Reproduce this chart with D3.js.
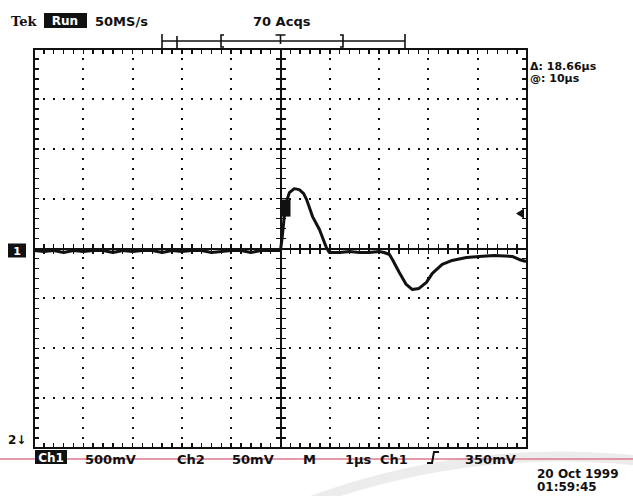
<!DOCTYPE html>
<html>
<head>
<meta charset="utf-8">
<script src="https://cdn.jsdelivr.net/npm/d3@7"></script>
<style>
  html, body { margin: 0; padding: 0; background: #fff; }
  svg text { font-family: 'DejaVu Sans', sans-serif; font-weight: bold; fill: #111; }
</style>
</head>
<body>
<div id="scope"></div>
<script>
// trace of channel 1, time in µs (trigger at 0), level in mV
const traceTime = [
  -5.0, -4.8, -4.6, -4.4, -4.2, -4.0, -3.8, -3.6, -3.4, -3.2, -3.0, -2.8, -2.6,
  -2.4, -2.2, -2.0, -1.8, -1.6, -1.4, -1.2, -1.0, -0.8, -0.6, -0.4, -0.2, 0.0,
  0.04, 0.1, 0.18, 0.28, 0.38, 0.47, 0.53, 0.65, 0.79, 0.93, 0.99, 1.09,
  1.2, 1.4, 1.6, 1.8, 2.0, 2.1, 2.21, 2.27, 2.41, 2.55, 2.67, 2.81, 2.96,
  3.08, 3.28, 3.48, 3.77, 4.03, 4.33, 4.7, 4.84, 4.98
];
const traceMv = [
  -20, -30, -20, -40, -20, -30, -20, -20, -40, -20, -30, -20, -20,
  -40, -20, -30, -20, -20, -40, -30, -20, -20, -40, -20, -20, -20,
  140, 440, 560, 600, 590, 550, 490, 320, 190, 10, -40, -40,
  -40, -30, -40, -40, -30, -40, -60, -110, -240, -360, -410, -400, -340,
  -250, -160, -120, -90, -80, -70, -80, -110, -130
];

const timeDomain = [-5, 5];       // 10 div at 1 µs/div
const levelDomain = [-2000, 2000]; // 8 div at 500 mV/div
const triggerLevel = 350;

const headerLabels = ['50MS/s', '70 Acqs'];
const cursorLabels = ['Δ: 18.66µs', '@: 10µs'];
const footerLabels = ['500mV', 'Ch2', '50mV', 'M', '1µs', 'Ch1', '350mV'];
const dateLabels = ['20 Oct 1999', '01:59:45'];

const width = 633;
const height = 496;
const box = { left: 34, right: 527, top: 49, bottom: 448 };

const x = d3.scaleLinear().domain(timeDomain).range([box.left, box.right]);
const y = d3.scaleLinear().domain(levelDomain).range([box.bottom, box.top]);

const svg = d3.select('#scope')
  .append('svg')
  .attr('width', width)
  .attr('height', height)
  .attr('viewBox', `0 0 ${width} ${height}`);

const ink = '#111';
const majorX = d3.range(timeDomain[0], timeDomain[1] + 0.001, 1);
const majorY = d3.range(levelDomain[0], levelDomain[1] + 1, 500);
const minorX = d3.range(timeDomain[0], timeDomain[1] + 0.001, 0.2);
const minorY = d3.range(levelDomain[0], levelDomain[1] + 1, 100);

// faint scan swoosh bottom right
svg.append('path')
  .attr('d', `M 300 505 Q 470 440 650 462`)
  .attr('fill', 'none')
  .attr('stroke', '#ececec')
  .attr('stroke-width', 10);

const grid = svg.append('g').attr('shape-rendering', 'crispEdges');

// dotted graticule
majorX.slice(1, -1).filter((d) => d !== 0).forEach((t) => {
  grid.selectAll(null)
    .data(minorY.slice(1, -1))
    .enter()
    .append('rect')
    .attr('x', x(t) - 1)
    .attr('y', (v) => y(v) - 1)
    .attr('width', 2)
    .attr('height', 2)
    .attr('fill', ink);
});
majorY.slice(1, -1).filter((d) => d !== 0).forEach((v) => {
  grid.selectAll(null)
    .data(minorX.slice(1, -1))
    .enter()
    .append('rect')
    .attr('x', (t) => x(t) - 1)
    .attr('y', y(v) - 1)
    .attr('width', 2)
    .attr('height', 2)
    .attr('fill', ink);
});

// frame
grid.append('rect')
  .attr('x', box.left)
  .attr('y', box.top)
  .attr('width', box.right - box.left)
  .attr('height', box.bottom - box.top)
  .attr('fill', 'none')
  .attr('stroke', ink)
  .attr('stroke-width', 2);

// center cross
grid.append('line')
  .attr('x1', x(0)).attr('x2', x(0))
  .attr('y1', box.top).attr('y2', box.bottom)
  .attr('stroke', ink).attr('stroke-width', 2);
grid.append('line')
  .attr('x1', box.left).attr('x2', box.right)
  .attr('y1', y(0)).attr('y2', y(0))
  .attr('stroke', ink).attr('stroke-width', 2);

// minor ticks on frame and center lines
const tk = 5;
minorX.slice(1, -1).forEach((t) => {
  grid.append('line').attr('x1', x(t)).attr('x2', x(t))
    .attr('y1', box.top).attr('y2', box.top + tk)
    .attr('stroke', ink).attr('stroke-width', 1.5);
  grid.append('line').attr('x1', x(t)).attr('x2', x(t))
    .attr('y1', box.bottom).attr('y2', box.bottom - tk)
    .attr('stroke', ink).attr('stroke-width', 1.5);
  grid.append('line').attr('x1', x(t)).attr('x2', x(t))
    .attr('y1', y(0) - tk).attr('y2', y(0) + tk)
    .attr('stroke', ink).attr('stroke-width', 1.5);
});
minorY.slice(1, -1).forEach((v) => {
  grid.append('line').attr('y1', y(v)).attr('y2', y(v))
    .attr('x1', box.left).attr('x2', box.left + tk)
    .attr('stroke', ink).attr('stroke-width', 1.5);
  grid.append('line').attr('y1', y(v)).attr('y2', y(v))
    .attr('x1', box.right).attr('x2', box.right - tk)
    .attr('stroke', ink).attr('stroke-width', 1.5);
  grid.append('line').attr('y1', y(v)).attr('y2', y(v))
    .attr('x1', x(0) - tk).attr('x2', x(0) + tk)
    .attr('stroke', ink).attr('stroke-width', 1.5);
});

// trace
const traceData = traceTime.map((t, i) => ({ t, v: traceMv[i] }));
const traceLine = d3.line()
  .x((d) => x(d.t))
  .y((d) => y(d.v));
svg.append('path')
  .attr('d', traceLine(traceData))
  .attr('fill', 'none')
  .attr('stroke', ink)
  .attr('stroke-width', 3)
  .attr('stroke-linejoin', 'round');

// trigger point marker and level arrow
svg.append('rect')
  .attr('x', x(0) + 1)
  .attr('y', y(triggerLevel) - 14)
  .attr('width', 9)
  .attr('height', 17)
  .attr('fill', ink);
svg.append('path')
  .attr('d', `M ${box.right - 11} ${y(triggerLevel)} L ${box.right - 3} ${y(triggerLevel) - 5} L ${box.right - 3} ${y(triggerLevel) + 5} Z`)
  .attr('fill', ink);

// channel markers at left
svg.append('rect').attr('x', 8).attr('y', y(-20) - 7).attr('width', 18).attr('height', 14).attr('fill', ink);
svg.append('text').attr('x', 17).attr('y', y(-20) + 5).attr('text-anchor', 'middle')
  .attr('font-size', 11).style('fill', '#fff').text('1');
svg.append('text').attr('x', 8).attr('y', 444).attr('font-size', 12).text('2↓');

// header: record bar
const bar = svg.append('g').attr('stroke', ink).attr('stroke-width', 1.6).attr('fill', 'none');
const barY = 41;
bar.append('line').attr('x1', 162).attr('x2', 405).attr('y1', barY).attr('y2', barY);
[162, 405].forEach((bx) => bar.append('line').attr('x1', bx).attr('x2', bx).attr('y1', barY - 7).attr('y2', barY + 7));
bar.append('line').attr('x1', 177).attr('x2', 177).attr('y1', barY - 5).attr('y2', barY + 9);
bar.append('path').attr('d', `M 224 ${barY - 6} L 221 ${barY - 6} L 221 ${barY + 6} L 224 ${barY + 6}`);
bar.append('path').attr('d', `M 340 ${barY - 6} L 343 ${barY - 6} L 343 ${barY + 6} L 340 ${barY + 6}`);
bar.append('path').attr('d', `M ${x(0) - 5} ${barY - 6} L ${x(0) + 5} ${barY - 6} M ${x(0)} ${barY - 6} L ${x(0)} ${barY + 3}`);

// header text
svg.append('text').attr('x', 11).attr('y', 26).attr('font-size', 13)
  .style('font-family', "'DejaVu Serif', serif").text('Tek');
svg.append('rect').attr('x', 44).attr('y', 13).attr('width', 43).attr('height', 15).attr('fill', ink);
svg.append('text').attr('x', 65).attr('y', 25).attr('font-size', 12).attr('text-anchor', 'middle')
  .style('fill', '#fff').text('Run');
svg.append('text').attr('x', 95).attr('y', 26).attr('font-size', 13).text(headerLabels[0]);
svg.append('text').attr('x', 253).attr('y', 26).attr('font-size', 13).text(headerLabels[1]);

// cursor readouts
svg.selectAll('.cursor')
  .data(cursorLabels)
  .enter()
  .append('text')
  .attr('x', 530)
  .attr('y', (d, i) => 70 + i * 12)
  .attr('font-size', 11)
  .text((d) => d);

// footer
svg.append('line')
  .attr('x1', 0).attr('x2', width)
  .attr('y1', 459).attr('y2', 459)
  .attr('stroke', '#dc7a8c')
  .attr('stroke-width', 1.5);
svg.append('rect').attr('x', 35).attr('y', 450).attr('width', 32).attr('height', 14).attr('fill', ink);
svg.append('text').attr('x', 51).attr('y', 462).attr('font-size', 12).attr('text-anchor', 'middle')
  .style('fill', '#fff').text('Ch1');
const footerX = [85, 177, 232, 303, 345, 380, 465];
svg.selectAll('.foot')
  .data(footerLabels)
  .enter()
  .append('text')
  .attr('x', (d, i) => footerX[i])
  .attr('y', 464)
  .attr('font-size', 13)
  .text((d) => d);
// rising-edge trigger slope symbol
svg.append('path')
  .attr('d', 'M 427 463 L 432 463 L 434 452 L 439 452')
  .attr('fill', 'none')
  .attr('stroke', ink)
  .attr('stroke-width', 2);

svg.selectAll('.date')
  .data(dateLabels)
  .enter()
  .append('text')
  .attr('x', 537)
  .attr('y', (d, i) => 478 + i * 13)
  .attr('font-size', 12)
  .text((d) => d);
</script>
</body>
</html>
